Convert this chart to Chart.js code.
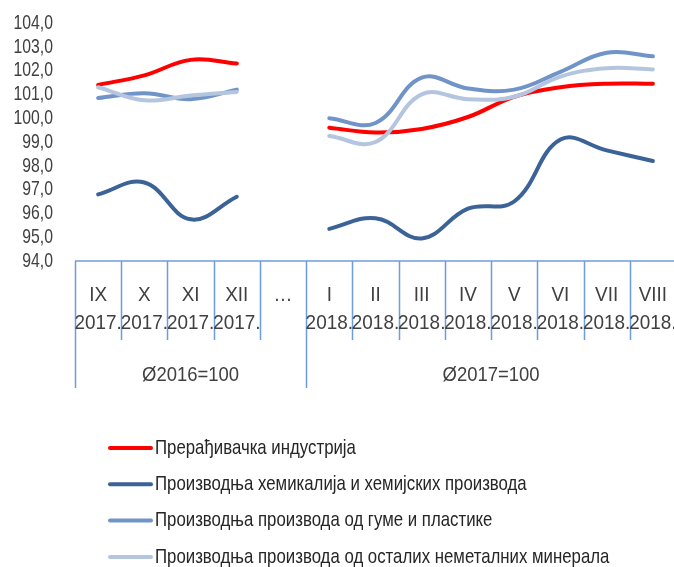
<!DOCTYPE html>
<html>
<head>
<meta charset="utf-8">
<script src="https://cdn.jsdelivr.net/npm/chart.js@4.4.0/dist/chart.umd.min.js"></script>
<style>
  html, body { margin: 0; padding: 0; background: #fff; overflow: hidden; }
  canvas { display: block; }
</style>
</head>
<body>
<canvas id="lineChartCanvas" width="680" height="567"></canvas>
<script>
// categories: month / year / base group
const months = ['IX', 'X', 'XI', 'XII', '…', 'I', 'II', 'III', 'IV', 'V', 'VI', 'VII', 'VIII'];
const years = ['2017.', '2017.', '2017.', '2017.', '', '2018.', '2018.', '2018.', '2018.', '2018.', '2018.', '2018.', '2018.'];
const groups = [
    { label: 'Ø2016=100', from: 0, to: 4 },
    { label: 'Ø2017=100', from: 5, to: 12 }
];

// series values (null = gap)
const manufacturing = [101.4, 101.8, 102.45, 102.3, null, 99.6, 99.4, 99.55, 100.05, 100.9, 101.3, 101.45, 101.45];
const chemicals = [96.8, 97.3, 95.75, 96.7, null, 95.35, 95.8, 94.95, 96.2, 96.5, 99.1, 98.65, 98.2];
const rubberPlastic = [100.85, 101.05, 100.8, 101.2, null, 100.0, 99.8, 101.7, 101.25, 101.2, 101.95, 102.75, 102.6];
const nonMetallic = [101.3, 100.75, 100.95, 101.1, null, 99.25, 99.0, 101.0, 100.8, 100.9, 101.75, 102.1, 102.05];

const seriesNames = [
    'Прерађивачка индустрија',
    'Производња хемикалија и хемијских производа',
    'Производња производа од гуме и пластике',
    'Производња производа од осталих неметалних минерала'
];
const seriesColors = ['#ff0000', '#3b6397', '#7094c7', '#b4c5df'];

const fontFamily = '"Liberation Sans", Arial, sans-serif';
const axisBlue = '#6d9ddf';

// squeezed text to mimic a condensed face
function drawText(ctx, s, x, y, align, size, sx, color) {
    ctx.save();
    ctx.translate(x, y);
    ctx.scale(sx, 1);
    ctx.font = size + 'px ' + fontFamily;
    ctx.fillStyle = color;
    ctx.textAlign = align;
    ctx.textBaseline = 'middle';
    ctx.fillText(s, 0, 0);
    ctx.restore();
}

// y tick labels, category box under the plot, legend
const categoryAxisPlugin = {
    id: 'categoryAxis',
    afterDraw(chart) {
        const ctx = chart.ctx;
        const x = chart.scales.x;
        const y = chart.scales.y;
        const area = chart.chartArea;
        const top = area.bottom;
        const half = (x.getPixelForValue(1) - x.getPixelForValue(0)) / 2;
        const edge = i => x.getPixelForValue(i) - half;

        y.ticks.forEach(t => {
            drawText(ctx, t.value.toFixed(1).replace('.', ','), 53, y.getPixelForValue(t.value), 'right', 21, 0.75, '#404040');
        });

        ctx.save();
        ctx.strokeStyle = axisBlue;
        ctx.lineWidth = 1.5;
        ctx.beginPath();
        ctx.moveTo(edge(0), top);
        ctx.lineTo(edge(months.length), top);
        for (let i = 0; i <= months.length; i++) {
            const isGroupEdge = groups.some(g => g.from === i);
            ctx.moveTo(Math.round(edge(i)) + 0.5, top);
            ctx.lineTo(Math.round(edge(i)) + 0.5, isGroupEdge ? top + 127 : top + 79);
        }
        ctx.stroke();
        ctx.restore();

        months.forEach((m, i) => {
            const cx = x.getPixelForValue(i);
            drawText(ctx, m, cx, top + 34, 'center', 21, 0.9, '#404040');
            if (years[i]) drawText(ctx, years[i], cx, top + 62, 'center', 21, 0.9, '#404040');
        });
        groups.forEach(g => {
            const cx = (edge(g.from) + edge(g.to + 1)) / 2;
            drawText(ctx, g.label, cx, top + 114, 'center', 21, 0.88, '#404040');
        });

        // legend, one entry per row, in series order
        ctx.save();
        ctx.lineCap = 'round';
        seriesNames.forEach((name, i) => {
            const ly = 448 + i * 36.3;
            ctx.strokeStyle = seriesColors[i];
            ctx.lineWidth = 4;
            ctx.beginPath();
            ctx.moveTo(110, ly);
            ctx.lineTo(151, ly);
            ctx.stroke();
            drawText(ctx, name, 155, ly, 'left', 21, 0.8, '#262626');
        });
        ctx.restore();
    }
};

const ctx = document.getElementById('lineChartCanvas').getContext('2d');
const lineChart = new Chart(ctx, {
    type: 'line',
    data: {
        labels: months,
        datasets: [manufacturing, chemicals, rubberPlastic, nonMetallic].map((d, i) => ({
            label: seriesNames[i],
            data: d,
            borderColor: seriesColors[i],
            backgroundColor: seriesColors[i],
            borderWidth: 4,
            pointRadius: 0,
            tension: 0.4,
            spanGaps: false,
            borderCapStyle: 'round'
        })).reverse()
    },
    options: {
        responsive: false,
        animation: false,
        layout: { padding: { top: 23, right: 4, bottom: 306, left: 0 } },
        plugins: {
            legend: { display: false },
            tooltip: { enabled: false }
        },
        scales: {
            x: {
                display: false,
                offset: true
            },
            y: {
                min: 94,
                max: 104,
                afterFit: scale => { scale.width = 75; },
                grid: { display: false, drawTicks: false },
                border: { display: false },
                ticks: { stepSize: 1, display: false }
            }
        }
    },
    plugins: [categoryAxisPlugin]
});
</script>
</body>
</html>
